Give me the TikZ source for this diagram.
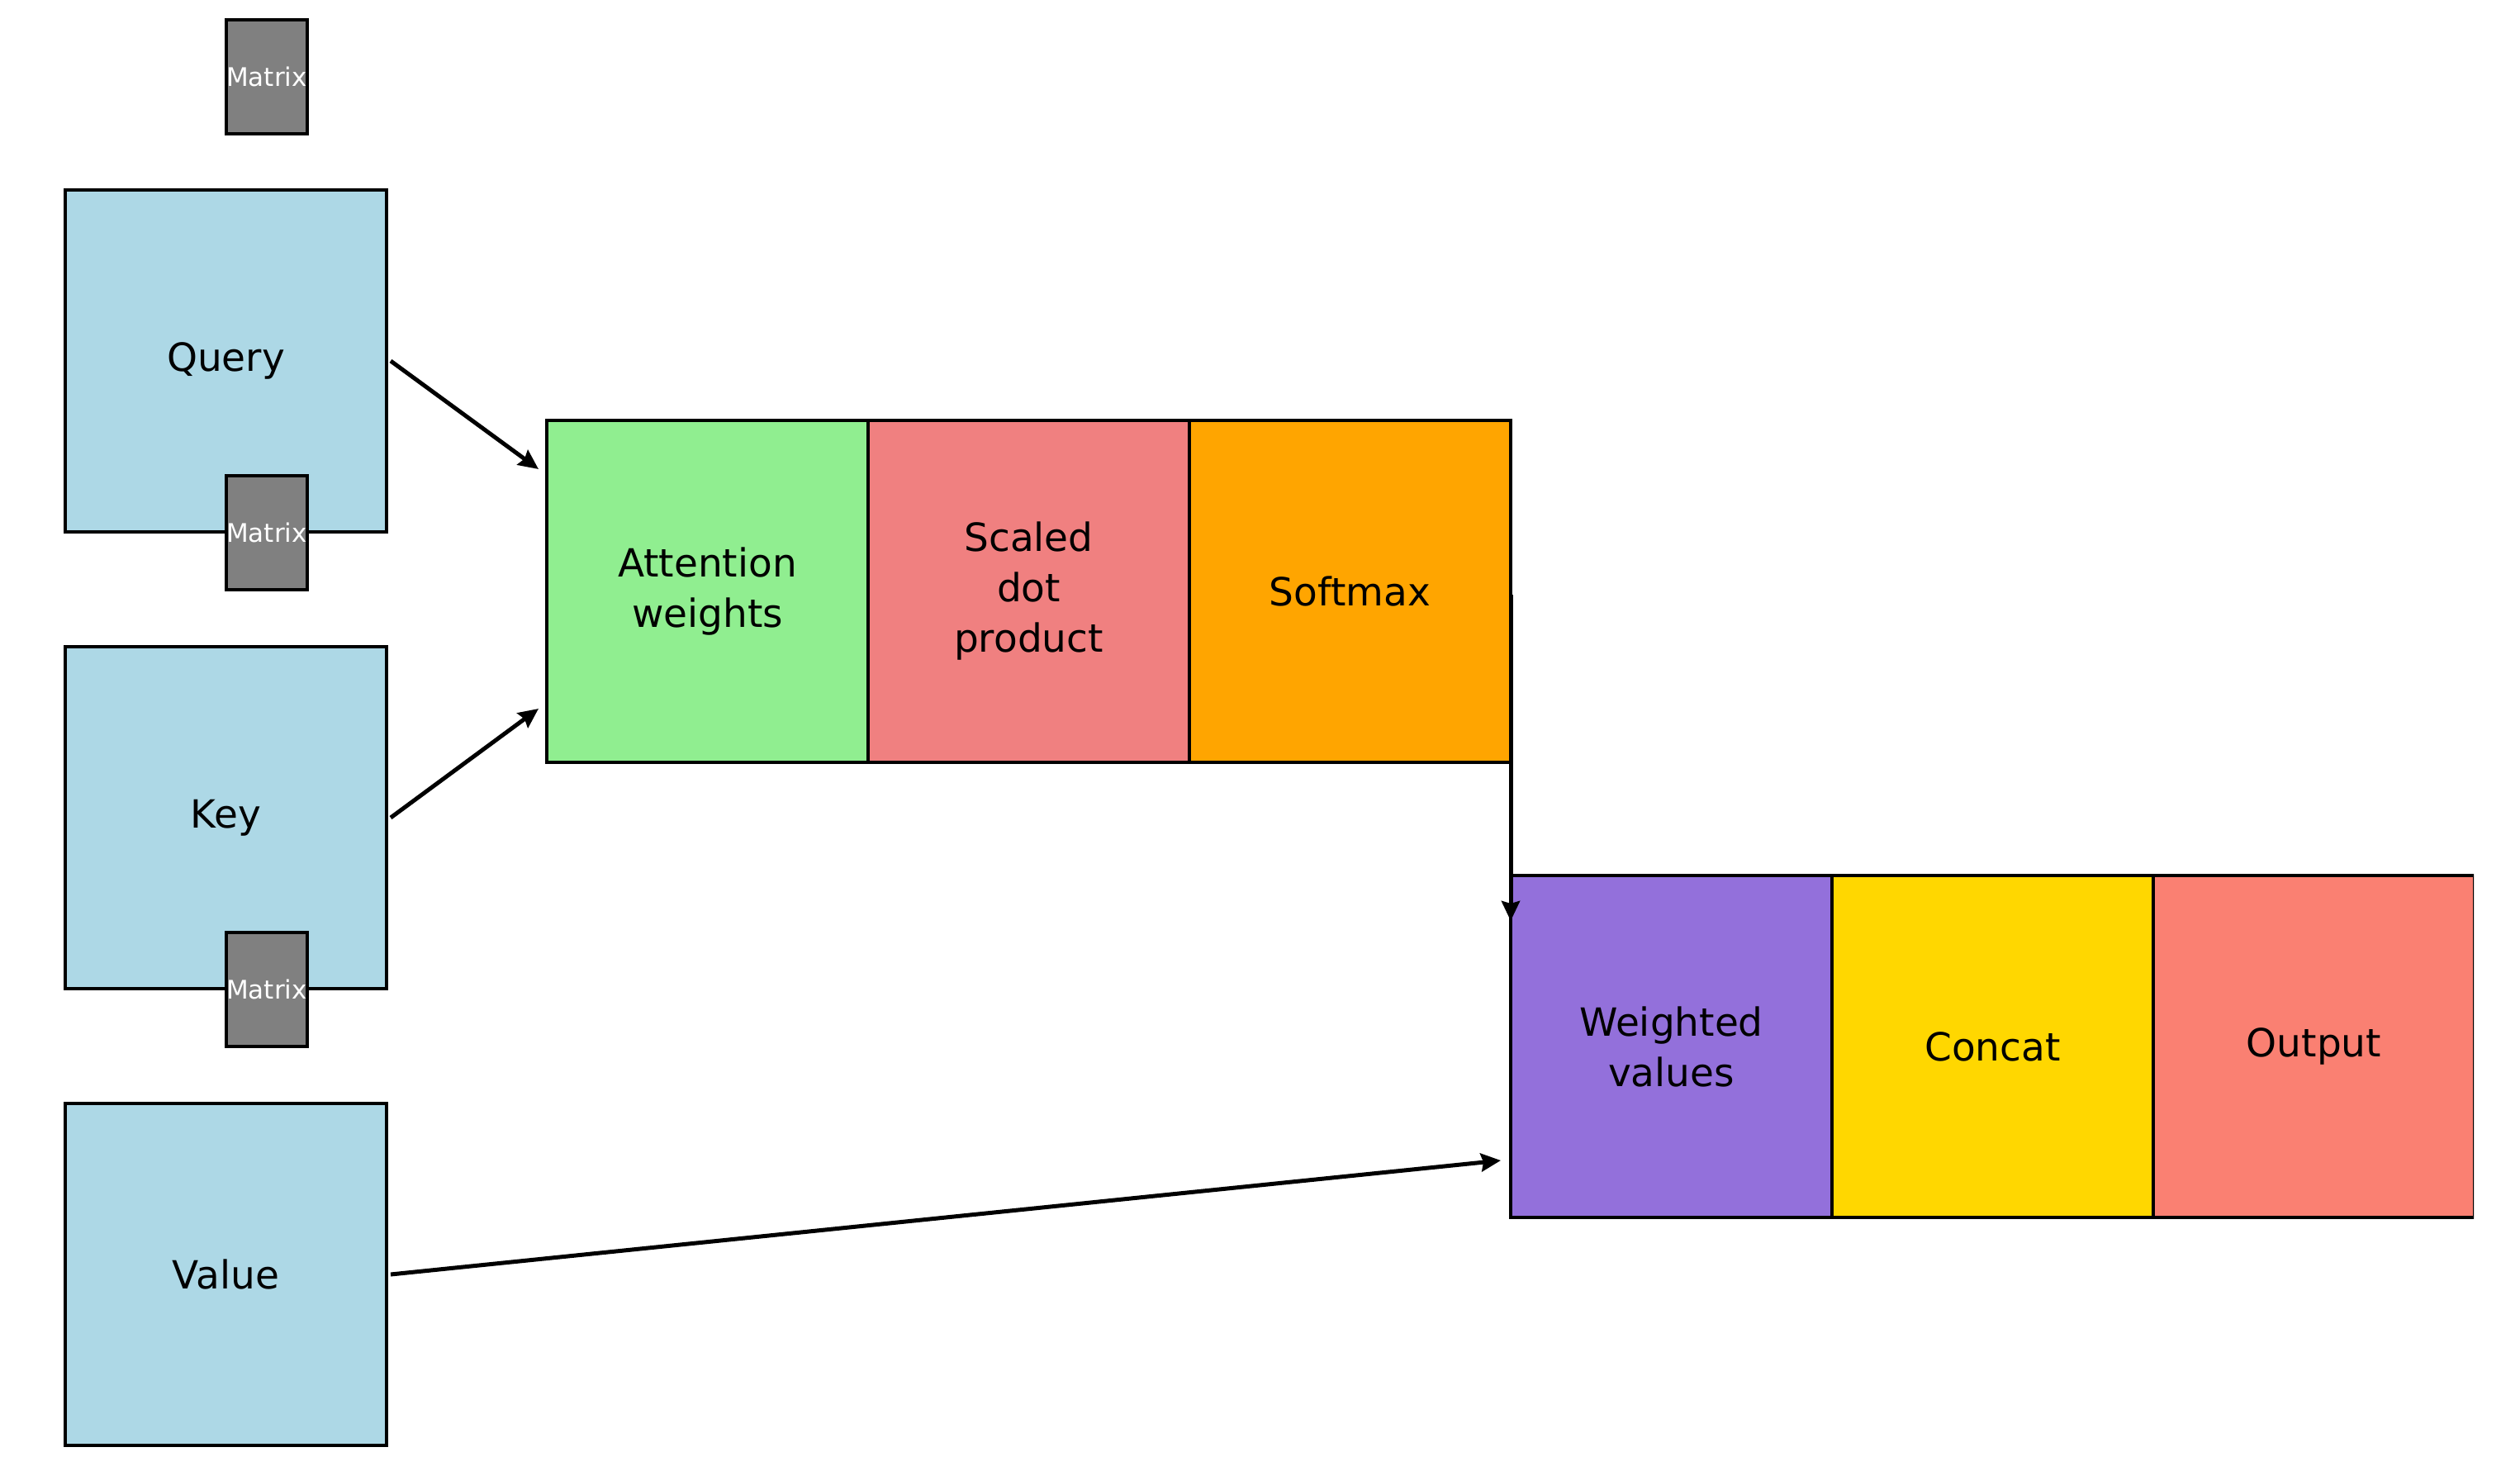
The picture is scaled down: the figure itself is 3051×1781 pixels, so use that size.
\documentclass[tikz,border=0pt]{standalone}
\usepackage{fontspec}
\setmainfont{DejaVu Sans}
\usetikzlibrary{arrows.meta}
\definecolor{qblue}{HTML}{ADD8E6}
\definecolor{lgreen}{HTML}{90EE90}
\definecolor{lcoral}{HTML}{F08080}
\definecolor{orng}{HTML}{FFA500}
\definecolor{mpurple}{HTML}{9370DB}
\definecolor{gld}{HTML}{FFD700}
\definecolor{slmn}{HTML}{FA8072}
\definecolor{matgray}{HTML}{808080}
\begin{document}
\begin{tikzpicture}[x=0.5pt,y=-0.5pt,
  blk/.style={draw=black,line width=1.6pt,inner sep=0pt,outer sep=0pt,
    minimum width=194.5pt,minimum height=207pt,anchor=north west,
    align=center,font=\fontsize{23.5}{30.5}\selectfont},
  mat/.style={draw=black,fill=matgray,line width=1.6pt,inner sep=0pt,outer sep=0pt,
    minimum width=49pt,minimum height=69pt,anchor=north west,
    text=white,font=\fontsize{15.5}{18}\selectfont},
  arr/.style={-{Stealth[length=12pt,width=11pt,inset=1.5pt]},line width=2.5pt}]
\useasboundingbox (0,0) rectangle (3051,1781);
\fill[white] (0,0) rectangle (3051,1781);
% left column
\node[mat] (m1) at (274,24) {Matrix};
\node[blk,fill=qblue] (q) at (79,230) {Query};
\node[mat] (m2) at (274,576) {Matrix};
\node[blk,fill=qblue] (k) at (79,783) {Key};
\node[mat] (m3) at (274,1129) {Matrix};
\node[blk,fill=qblue] (v) at (79,1336) {Value};
% middle row
\node[blk,fill=lgreen] (a) at (662,509) {Attention\\weights};
\node[blk,fill=lcoral] (s) at (1051,509) {Scaled\\dot\\product};
\node[blk,fill=orng] (sm) at (1440,509) {Softmax};
% lower row
\node[blk,fill=mpurple] (w) at (1829,1060) {Weighted\\values};
\node[blk,fill=gld] (c) at (2218,1060) {Concat};
\begin{scope}
\clip (0,0) rectangle (2995,1781);
\node[blk,fill=slmn] (o) at (2607,1060) {Output};
\end{scope}
% connectors
\draw[arr] ([xshift=2.5pt]q.east) -- ([xshift=-5pt,yshift=-29.5pt]a.north west);
\draw[arr] ([xshift=2.5pt]k.east) -- ([xshift=-5pt,yshift=32.5pt]a.south west);
\draw[arr] ([yshift=-2pt]sm.east) -- ([yshift=-27.5pt]w.north west);
\draw[arr] ([xshift=2.5pt]v.east) -- ([xshift=-6pt,yshift=34.5pt]w.south west);
\end{tikzpicture}
\end{document}
